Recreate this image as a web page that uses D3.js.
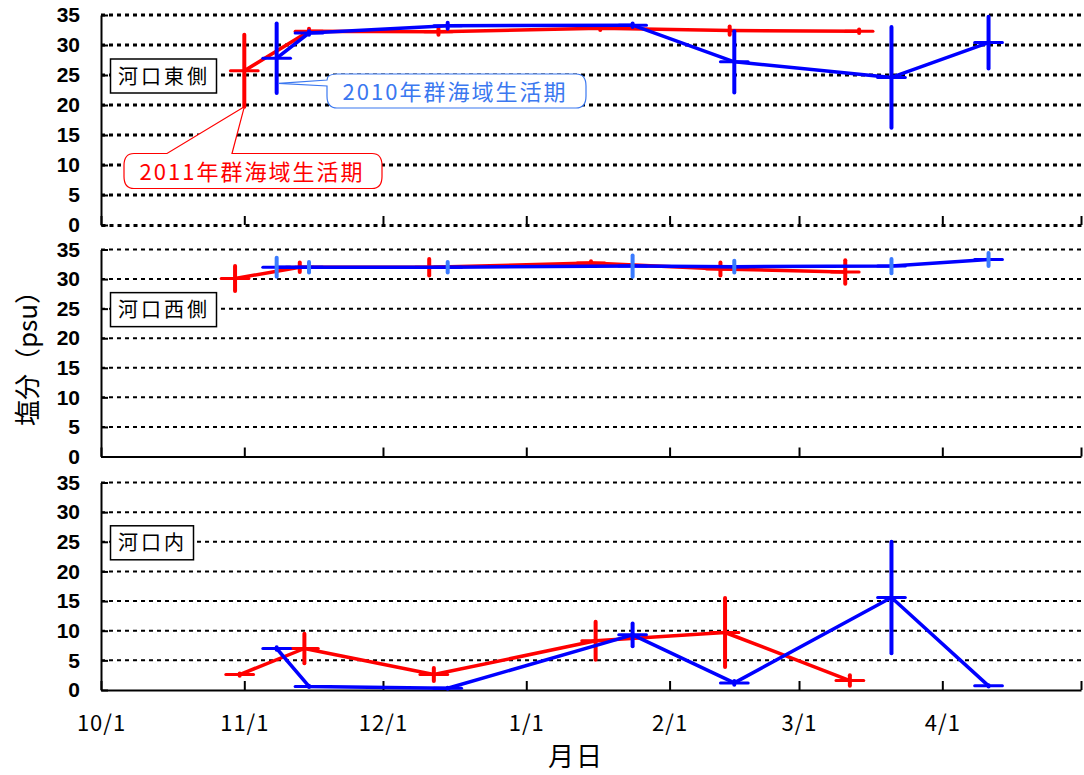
<!DOCTYPE html>
<html>
<head>
<meta charset="utf-8">
<script src="https://cdn.jsdelivr.net/npm/d3@7"></script>
<style>
  body { margin: 0; background: #fff; }
  svg { display: block; font-family: "Noto Sans CJK JP", sans-serif; }
</style>
</head>
<body>
<div id="chart"></div>
<script>
// ========================================
// Data (salinity, psu)
// ========================================
const panelNames = ["河口東側", "河口西側", "河口内"];
const seriesNames = ["2010年群海域生活期", "2011年群海域生活期"];
const yTicks = [0, 5, 10, 15, 20, 25, 30, 35];
const xTickDates = ["2010-10-01", "2010-11-01", "2010-12-01", "2011-01-01",
                    "2011-02-01", "2011-03-01", "2011-04-01", "2011-05-01"];
const xTickLabels = ["10/1", "11/1", "12/1", "1/1", "2/1", "3/1", "4/1", ""];

// 2010 season (blue) sampling dates - same for every station
const blueDates = ["2010-11-08", "2010-11-15", "2010-12-15", "2011-01-24",
                   "2011-02-15", "2011-03-21", "2011-04-11"];
// 2011 season (red) sampling dates per station
const redDatesEast  = ["2010-11-01", "2010-11-15", "2010-12-13", "2011-01-17", "2011-02-14", "2011-03-14"];
const redDatesWest  = ["2010-10-30", "2010-11-13", "2010-12-11", "2011-01-15", "2011-02-12", "2011-03-11"];
const redDatesInner = ["2010-10-31", "2010-11-14", "2010-12-12", "2011-01-16", "2011-02-13", "2011-03-12"];

// 河口東側
const blueEast    = [27.8, 32.0, 33.2, 33.3, 27.2, 24.6, 30.4];
const blueEastErr = [5.8, 0.3, 0.5, 0.3, 5.1, 8.4, 4.3];
const redEast     = [25.7, 32.3, 32.2, 32.8, 32.4, 32.3];
const redEastErr  = [6.0, 0.4, 0.5, 0.3, 0.7, 0.3];
// 河口西側
const blueWest    = [32.0, 32.0, 32.0, 32.2, 32.1, 32.2, 33.3];
const blueWestErr = [1.6, 0.9, 0.9, 1.8, 1.0, 1.2, 1.1];
const redWest     = [30.1, 32.0, 32.0, 32.7, 31.7, 31.2];
const redWestErr  = [2.1, 0.8, 1.4, 0.3, 1.1, 2.0];
// 河口内
const blueInner    = [7.0, 0.6, 0.3, 9.3, 1.2, 15.6, 0.7];
const blueInnerErr = [0.2, 0.1, 0.1, 1.9, 0.3, 9.4, 0.1];
const redInner     = [2.6, 7.0, 2.6, 8.3, 9.7, 1.6];
const redInnerErr  = [0.2, 2.5, 1.1, 3.2, 5.8, 0.9];

const xErrDays = 3;   // horizontal bar half width (days)

// ========================================
// Layout
// ========================================
const width = 1084, height = 775;
const red = "#ff0000", blue = "#0000ff";
const parse = d3.utcParse("%Y-%m-%d");

const x = d3.scaleUtc()
  .domain([parse(xTickDates[0]), parse(xTickDates[xTickDates.length - 1])])
  .range([101, 1081]);

const panels = [
  { name: panelNames[0], top: 15,    bottom: 225,   gridW: 3,   dottedAxis: true,
    blue: [blueDates, blueEast, blueEastErr], red: [redDatesEast, redEast, redEastErr], blueErr: blue },
  { name: panelNames[1], top: 249.5, bottom: 456.5, gridW: 2,   dottedAxis: false,
    blue: [blueDates, blueWest, blueWestErr], red: [redDatesWest, redWest, redWestErr], blueErr: "#3a7bff" },
  { name: panelNames[2], top: 482.5, bottom: 690,   gridW: 2,   dottedAxis: false,
    blue: [blueDates, blueInner, blueInnerErr], red: [redDatesInner, redInner, redInnerErr], blueErr: blue }
];

const svg = d3.select('#chart')
  .append('svg')
    .attr('width', width)
    .attr('height', height);

function drawSeries(g, y, s, color, errColor) {
  const pts = s[0].map((d, i) => ({ d: parse(d), v: s[1][i], e: s[2][i] }));
  g.append('path')
    .datum(pts)
    .attr('d', d3.line().x(p => x(p.d)).y(p => y(p.v)))
    .attr('fill', 'none')
    .attr('stroke', color)
    .attr('stroke-width', 3.5)
    .attr('stroke-linejoin', 'round');
  // horizontal bars
  g.selectAll(null).data(pts).join('line')
    .attr('x1', p => x(d3.utcDay.offset(p.d, -xErrDays)))
    .attr('x2', p => x(d3.utcDay.offset(p.d, xErrDays)))
    .attr('y1', p => y(p.v))
    .attr('y2', p => y(p.v))
    .attr('stroke', color)
    .attr('stroke-width', 3)
    .attr('stroke-linecap', 'round');
  // vertical error bars
  g.selectAll(null).data(pts).join('line')
    .attr('x1', p => x(p.d))
    .attr('x2', p => x(p.d))
    .attr('y1', p => y(p.v - p.e))
    .attr('y2', p => y(p.v + p.e))
    .attr('stroke', errColor)
    .attr('stroke-width', 4)
    .attr('stroke-linecap', 'round');
}

panels.forEach((p, pi) => {
  const y = d3.scaleLinear().domain([0, 35]).range([p.bottom, p.top]);
  const g = svg.append('g');

  // dotted grid lines
  g.selectAll(null).data(yTicks.filter(v => v > 0)).join('line')
    .attr('x1', x.range()[0]).attr('x2', x.range()[1])
    .attr('y1', d => y(d)).attr('y2', d => y(d))
    .attr('stroke', '#000')
    .attr('stroke-width', p.gridW)
    .attr('stroke-dasharray', '4,4');

  // y axis
  g.append('g')
    .attr('transform', 'translate(' + x.range()[0] + ',0)')
    .call(d3.axisLeft(y).tickValues(yTicks).tickSizeInner(-7).tickSizeOuter(0).tickPadding(21))
    .call(a => a.select('.domain').attr('stroke', '#000').attr('stroke-width', 2))
    .call(a => a.selectAll('.tick line').attr('stroke', '#000').attr('stroke-width', 2))
    .call(a => a.selectAll('text')
      .attr('font-family', '"Liberation Sans", Arial, sans-serif')
      .attr('font-weight', 'bold')
      .attr('font-size', 21)
      .attr('fill', '#000'));

  // x axis (ticks pointing up)
  const xAxis = d3.axisBottom(x)
    .tickValues(xTickDates.map(parse))
    .tickSizeInner(-9).tickSizeOuter(0).tickPadding(25)
    .tickFormat((d, i) => pi === 2 ? xTickLabels[i] : '');
  g.append('g')
    .attr('transform', 'translate(0,' + p.bottom + ')')
    .call(xAxis)
    .call(a => a.select('.domain')
      .attr('stroke', '#000')
      .attr('stroke-width', p.dottedAxis ? 3 : 2)
      .attr('stroke-dasharray', p.dottedAxis ? '4,4' : null))
    .call(a => a.selectAll('.tick line').attr('stroke', '#000').attr('stroke-width', 2))
    .call(a => a.selectAll('text')
      .attr('font-family', '"Noto Sans CJK JP", sans-serif')
      .attr('font-size', 22)
      .attr('letter-spacing', 1)
      .attr('fill', '#000'));

  // data
  drawSeries(g, y, p.red, red, red);
  drawSeries(g, y, p.blue, blue, p.blueErr);

  // station label box
  const cy = y(25) + 1;
  const box = g.append('rect')
    .attr('x', 110.5)
    .attr('y', cy - 17)
    .attr('height', 34)
    .attr('fill', '#fff')
    .attr('stroke', '#000')
    .attr('stroke-width', 1.5);
  const lbl = g.append('text')
    .attr('x', 118)
    .attr('y', cy + 7.5)
    .attr('font-size', 20)
    .attr('letter-spacing', 3)
    .attr('fill', '#000')
    .text(p.name);
  box.attr('width', lbl.node().getComputedTextLength() + 14);
});

// ========================================
// Callouts (top panel)
// ========================================
function calloutTop(x0, y0, x1, y1, bx1, bx2, tx, ty) {
  const rx = 10, ry = 12;
  return 'M' + (x0 + rx) + ',' + y0 + ' L' + bx1 + ',' + y0 + ' L' + tx + ',' + ty + ' L' + bx2 + ',' + y0 +
    ' L' + (x1 - rx) + ',' + y0 + ' Q' + x1 + ',' + y0 + ' ' + x1 + ',' + (y0 + ry) +
    ' L' + x1 + ',' + (y1 - ry) + ' Q' + x1 + ',' + y1 + ' ' + (x1 - rx) + ',' + y1 +
    ' L' + (x0 + rx) + ',' + y1 + ' Q' + x0 + ',' + y1 + ' ' + x0 + ',' + (y1 - ry) +
    ' L' + x0 + ',' + (y0 + ry) + ' Q' + x0 + ',' + y0 + ' ' + (x0 + rx) + ',' + y0 + ' Z';
}
function calloutLeft(x0, y0, x1, y1, by1, by2, tx, ty) {
  const rx = 10, ry = 12;
  return 'M' + (x0 + rx) + ',' + y0 + ' L' + (x1 - rx) + ',' + y0 + ' Q' + x1 + ',' + y0 + ' ' + x1 + ',' + (y0 + ry) +
    ' L' + x1 + ',' + (y1 - ry) + ' Q' + x1 + ',' + y1 + ' ' + (x1 - rx) + ',' + y1 +
    ' L' + (x0 + rx) + ',' + y1 + ' Q' + x0 + ',' + y1 + ' ' + x0 + ',' + (y1 - ry) +
    ' L' + x0 + ',' + by2 + ' L' + tx + ',' + ty + ' L' + x0 + ',' + by1 +
    ' Q' + x0 + ',' + y0 + ' ' + (x0 + rx) + ',' + y0 + ' Z';
}

const yTop = d3.scaleLinear().domain([0, 35]).range([panels[0].bottom, panels[0].top]);
const redTipX = x(parse(redDatesEast[0])), redTipY = yTop(redEast[0] - redEastErr[0]);
const blueTipX = x(parse(blueDates[0])) + 2, blueTipY = yTop(23.6);

svg.append('path')
  .attr('d', calloutLeft(327, 74, 586, 108, 80, 86, blueTipX, blueTipY))
  .attr('fill', '#fff')
  .attr('stroke', '#3b78f0')
  .attr('stroke-width', 1.2);
svg.append('text')
  .attr('x', 455).attr('y', 100)
  .attr('text-anchor', 'middle')
  .attr('font-size', 22)
  .attr('letter-spacing', 2)
  .attr('fill', '#3b78f0')
  .text(seriesNames[0]);

svg.append('path')
  .attr('d', calloutTop(124, 153.5, 382, 188.5, 167, 232, redTipX, redTipY))
  .attr('fill', '#fff')
  .attr('stroke', red)
  .attr('stroke-width', 1.2);
svg.append('text')
  .attr('x', 252).attr('y', 180)
  .attr('text-anchor', 'middle')
  .attr('font-size', 22)
  .attr('letter-spacing', 2)
  .attr('fill', red)
  .text(seriesNames[1]);

// ========================================
// Axis titles
// ========================================
svg.append('text')
  .attr('transform', 'translate(37,352) rotate(-90)')
  .attr('text-anchor', 'middle')
  .attr('font-size', 26)
  .attr('fill', '#000')
  .text('塩分（psu）');

svg.append('text')
  .attr('x', 576).attr('y', 766)
  .attr('text-anchor', 'middle')
  .attr('font-size', 26)
  .attr('letter-spacing', 2)
  .attr('fill', '#000')
  .text('月日');
</script>
</body>
</html>
